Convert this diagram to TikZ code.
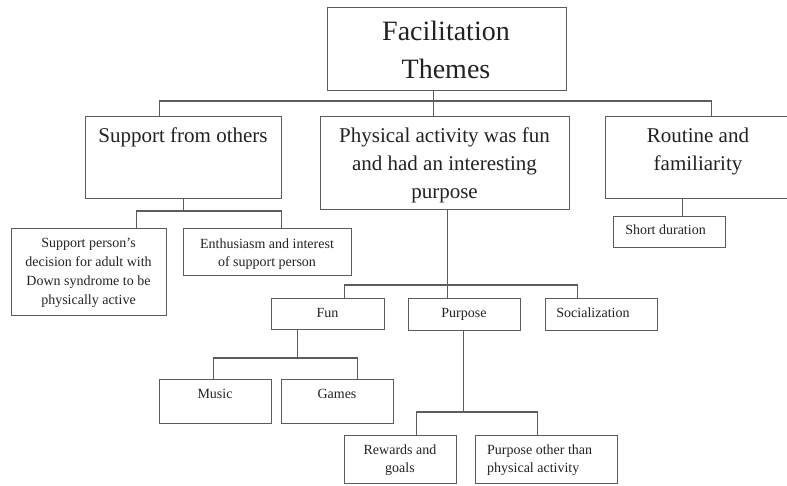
\documentclass[tikz,border=0pt]{standalone}
\usepackage{fontspec}
\setmainfont{Liberation Serif}
\usetikzlibrary{positioning}
\definecolor{linegray}{HTML}{5C5C5C}
\definecolor{textgray}{HTML}{222222}
\tikzset{%
  mybox/.style={rectangle, draw=linegray, line width=1.4pt, anchor=north west, inner sep=0pt},
  myedge/.style={draw=linegray, line width=1.4pt},
  titletext/.style={anchor=base, align=center, inner sep=0pt, text=textgray, font=\fontsize{28}{38}\selectfont},
  bigtext/.style={anchor=base, align=center, inner sep=0pt, text=textgray, font=\fontsize{21}{28}\selectfont},
  smalltext/.style={anchor=base, align=center, inner sep=0pt, text=textgray, font=\fontsize{14}{18.7}\selectfont}
}

\begin{document}
\begin{tikzpicture}[x=1pt, y=-1pt]
  \useasboundingbox (0,0) rectangle (787,485);
  % boxes
  \node[mybox, minimum width=239pt, minimum height=83pt] (title) at (327,7) {};
  \node[mybox, minimum width=196pt, minimum height=82pt] (support) at (85,116) {};
  \node[mybox, minimum width=249pt, minimum height=93pt] (phys) at (320,116) {};
  \node[mybox, minimum width=181.5pt, minimum height=82pt] (routine) at (605,116) {};
  \node[mybox, minimum width=155pt, minimum height=87pt] (sp) at (11,228) {};
  \node[mybox, minimum width=168pt, minimum height=47pt] (enth) at (183,228) {};
  \node[mybox, minimum width=112pt, minimum height=31pt] (short) at (613,216) {};
  \node[mybox, minimum width=113pt, minimum height=31pt] (fun) at (271,298) {};
  \node[mybox, minimum width=112pt, minimum height=32pt] (purp) at (408,298) {};
  \node[mybox, minimum width=112pt, minimum height=32pt] (social) at (545,298) {};
  \node[mybox, minimum width=112pt, minimum height=44pt] (music) at (159,379) {};
  \node[mybox, minimum width=112pt, minimum height=44pt] (games) at (281,379) {};
  \node[mybox, minimum width=112pt, minimum height=48pt] (rewards) at (344,435) {};
  \node[mybox, minimum width=142pt, minimum height=48pt] (other) at (475,435) {};
  % texts (base = last line)
  \node[titletext] (title-t) at (446,78) {Facilitation\\Themes};
  \node[bigtext] (support-t) at (183,142) {Support from others};
  \node[bigtext] (phys-t) at (444.5,198) {Physical activity was fun\\and had an interesting\\purpose};
  \node[bigtext] (routine-t) at (698,170) {Routine and\\familiarity};
  \node[smalltext] (sp-t) at (88.5,304) {Support person’s\\decision for adult with\\Down syndrome to be\\physically active};
  \node[smalltext] (enth-t) at (267,266.7) {Enthusiasm and interest\\of support person};
  \node[smalltext] (short-t) at (665.5,234) {Short duration};
  \node[smalltext] (fun-t) at (327.5,317) {Fun};
  \node[smalltext] (purp-t) at (464,317) {Purpose};
  \node[smalltext] (social-t) at (593,317) {Socialization};
  \node[smalltext] (music-t) at (215,398) {Music};
  \node[smalltext] (games-t) at (337,398) {Games};
  \node[smalltext] (rewards-t) at (400,472.7) {Rewards and\\goals};
  \node[smalltext, anchor=base west, align=left] (other-t) at (487,472.7) {Purpose other than\\physical activity};
  % connectors
  \draw[myedge] ([xshift=-13.5pt]title.south) -- ([xshift=-11.5pt]phys.north);
  \draw[myedge] ([xshift=-24pt]support.north) -- ++(0,-15) -| ([xshift=15pt]routine.north);
  \draw[myedge] ([xshift=13pt]short.north) -- ([xshift=13pt]short.north |- routine.south);
  \draw[myedge] (support.south) -- ++(0,13);
  \draw[myedge] ([xshift=47.5pt]sp.north) -- ++(0,-17) -| ([xshift=14pt]enth.north);
  \draw[myedge] ([xshift=-17pt]purp.north) -- ([xshift=-17pt]purp.north |- phys.south);
  \draw[myedge] ([xshift=16.5pt]fun.north) -- ++(0,-13) -| ([xshift=-24pt]social.north);
  \draw[myedge] ([xshift=-30.5pt]fun.south) -- ++(0,29);
  \draw[myedge] ([xshift=-2pt]music.north) -- ++(0,-21) -| ([xshift=20pt]games.north);
  \draw[myedge] ([xshift=-1pt]purp.south) -- ++(0,82);
  \draw[myedge] ([xshift=16pt]rewards.north) -- ++(0,-23) -| ([xshift=-9pt]other.north);
\end{tikzpicture}
\end{document}
